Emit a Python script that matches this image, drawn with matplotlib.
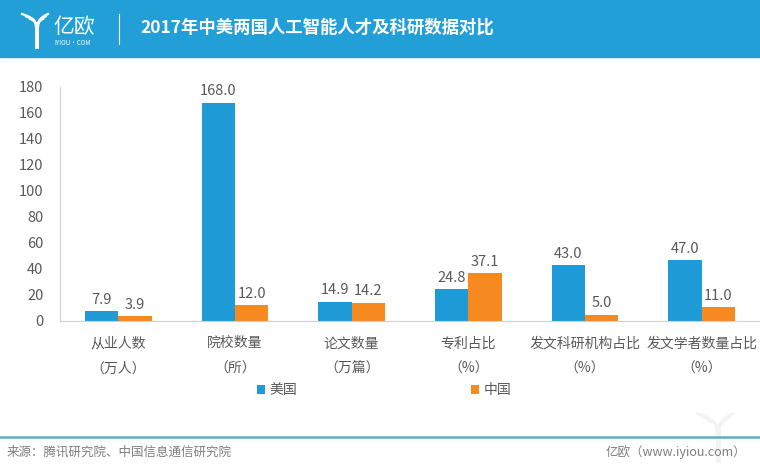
import matplotlib
matplotlib.use("Agg")
import matplotlib.pyplot as plt
from matplotlib.patches import Rectangle
import numpy as np

plt.rcParams['font.family'] = ['Noto Sans CJK SC', 'DejaVu Sans']

# data
categories = ['从业人数\n（万人）', '院校数量\n（所）', '论文数量\n（万篇）',
              '专利占比\n（%）', '发文科研机构占比\n（%）', '发文学者数量占比\n（%）']
usa = [7.9, 168.0, 14.9, 24.8, 43.0, 47.0]
china = [3.9, 12.0, 14.2, 37.1, 5.0, 11.0]
series_names = ['美国', '中国']
yticks = [0, 20, 40, 60, 80, 100, 120, 140, 160, 180]

BLUE = '#1E9BD7'
ORANGE = '#F6891F'
TXT = '#595959'

fig = plt.figure(figsize=(7.6, 4.68), dpi=100)
ax = fig.add_axes([60 / 760, 147 / 468, 700 / 760, 234 / 468])

x = np.arange(len(categories))
w = 0.285
b1 = ax.bar(x - w / 2, usa, w, color=BLUE, label=series_names[0], zorder=2)
b2 = ax.bar(x + w / 2, china, w, color=ORANGE, label=series_names[1], zorder=2)

for bars, vals in ((b1, usa), (b2, china)):
    for r, v in zip(bars, vals):
        ax.annotate(f'{v:.1f}', (r.get_x() + r.get_width() / 2, v),
                    xytext=(0, 3), textcoords='offset points',
                    ha='center', va='bottom', fontsize=10.5, color=TXT)

ax.set_xlim(-0.5, len(categories) - 0.5)
ax.set_ylim(0, 180)
ax.set_yticks(yticks)
ax.set_xticks(x)
ax.set_xticklabels(categories, fontsize=10, color=TXT, linespacing=2.0)
ax.tick_params(axis='y', length=0, pad=12, labelsize=10.5, labelcolor=TXT)
ax.tick_params(axis='x', length=0, pad=11)
for s in ('top', 'right'):
    ax.spines[s].set_visible(False)
ax.spines['left'].set_color('#D0D0D0')
ax.spines['bottom'].set_color('#D0D0D0')

leg = fig.legend(handles=[b1, b2], loc='center', bbox_to_anchor=(384 / 760, 1 - 390 / 468),
                 ncol=2, frameon=False, fontsize=10, handlelength=0.6, handleheight=0.6,
                 handletextpad=0.3, columnspacing=12.5)
for t in leg.get_texts():
    t.set_color(TXT)

lx = lambda p: p / 760
ly = lambda p: 1 - p / 468


def logo(cx, top, size, color, lw):
    # simple multi-strand "Y" mark, cx = stem x, top = top y (px), size = height (px)
    t = np.linspace(0, 1, 30)
    k = size / 37
    for off in (0, 4, 8):
        ys = top + 16 * k - (12 - off * 0.6) * k * (1 - t) ** 0.6
        xs = cx - 1 - (14 - off) * k * (1 - t) ** 1.6
        fig.lines.append(plt.Line2D(lx(xs), ly(ys), transform=fig.transFigure, color=color, lw=lw))
        xs2 = cx + 1 + (10 - off * 0.6) * k * (1 - t) ** 1.6
        fig.lines.append(plt.Line2D(lx(xs2), ly(ys), transform=fig.transFigure, color=color, lw=lw))
    fig.lines.append(plt.Line2D([lx(cx), lx(cx)], [ly(top + 16 * k), ly(top + size)],
                                transform=fig.transFigure, color=color, lw=lw * 1.8))


# header band
fig.patches.append(Rectangle((0, 1 - 57 / 468), 1, 57 / 468, transform=fig.transFigure,
                             color='#239FD8', zorder=0))
logo(37, 10, 37, 'white', 1.6)
fig.text(lx(53), ly(27), '亿欧', color='white', fontsize=15, va='center', ha='left')
fig.text(lx(54), ly(43), 'IYIOU·COM', color='white', fontsize=4.5, va='center', ha='left')
fig.lines.append(plt.Line2D([lx(119), lx(119)], [ly(14), ly(44)], transform=fig.transFigure,
                            color='white', lw=0.8))
fig.text(lx(140), ly(28), '2017年中美两国人工智能人才及科研数据对比', color='white',
         fontsize=12.5, fontweight='bold', va='center', ha='left')

# footer
logo(718, 408, 52, '#F3F3F3', 2.0)
fig.lines.append(plt.Line2D([0, 1], [ly(437), ly(437)], transform=fig.transFigure,
                            color='#5AAFC2', lw=1.8))
fig.text(lx(7), ly(452), '来源：腾讯研究院、中国信息通信研究院', color='#7F7F7F', fontsize=9,
         va='center', ha='left')
fig.text(lx(746), ly(452), '亿欧（www.iyiou.com）', color='#7F7F7F', fontsize=9,
         va='center', ha='right')

fig.savefig('out.png', dpi=100)
